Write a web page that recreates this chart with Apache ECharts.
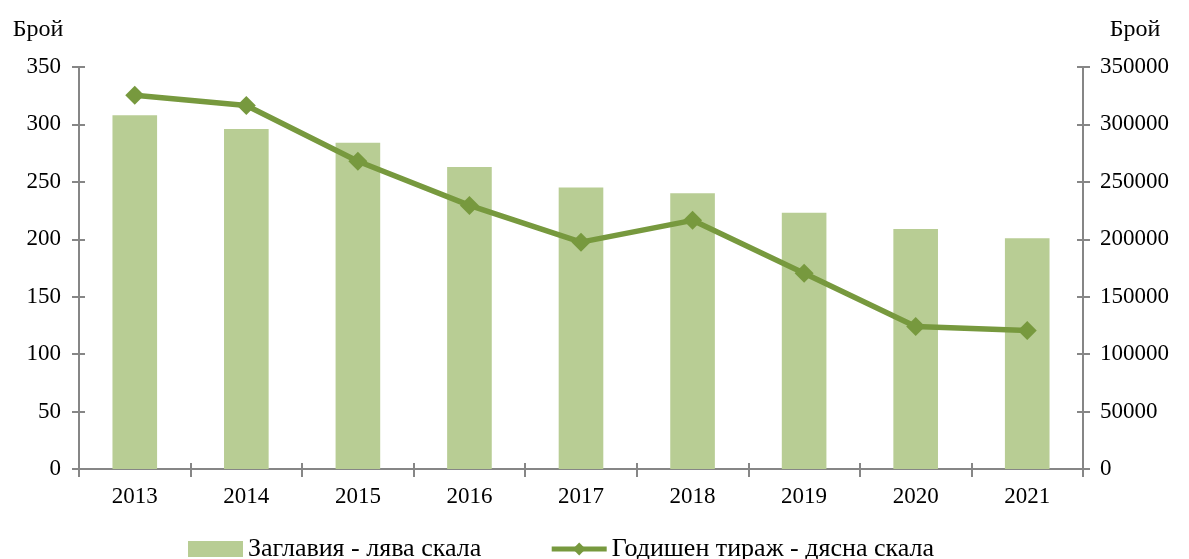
<!DOCTYPE html>
<html>
<head>
<meta charset="utf-8">
<script src="https://cdn.jsdelivr.net/npm/echarts@6/dist/echarts.min.js"></script>
<style>html,body{margin:0;padding:0;background:#fff}#c{width:1189px;height:559px}</style>
</head>
<body>
<div id="c"></div>
<script>
const years = ['2013','2014','2015','2016','2017','2018','2019','2020','2021'];
const titles = [308, 296, 284, 263, 245, 240, 223, 209, 201];
const circulation = [325500, 316500, 268000, 229500, 197500, 216500, 170500, 124000, 120500];
const leftName = 'Брой';
const rightName = 'Брой';
const barName = 'Заглавия - лява скала';
const lineName = 'Годишен тираж - дясна скала';

const FONT = '"Liberation Serif", "DejaVu Serif", serif';
const AX = '#868686';
const GREEN = '#77993e';
const txt = {color: '#000', fontFamily: FONT, fontSize: 23};

const chart = echarts.init(document.getElementById('c'));
const tickOnly = (extra) => Object.assign({
  axisLine: {show: false},
  axisLabel: {show: false},
  splitLine: {show: false},
  axisTick: {show: true, inside: true, length: 6, lineStyle: {color: AX, width: 2}}
}, extra);

chart.setOption({
  animation: false,
  textStyle: {fontFamily: FONT},
  grid: {left: 79, right: 106, top: 67, bottom: 90, containLabel: false},
  legend: {
    top: 531, left: 183,
    itemWidth: 55, itemHeight: 16, itemGap: 68,
    textStyle: Object.assign({}, txt, {fontSize: 26}),
    data: [
      {name: barName, icon: 'rect'},
      {name: lineName, lineStyle: {width: 5, color: GREEN}, itemStyle: {color: GREEN}}
    ]
  },
  xAxis: [
    {
      type: 'category', data: years, position: 'bottom',
      axisLine: {lineStyle: {color: AX, width: 2}},
      axisTick: {show: true, length: 8, lineStyle: {color: AX, width: 2}},
      axisLabel: Object.assign({}, txt, {margin: 16}),
      splitLine: {show: false}
    },
    tickOnly({type: 'category', data: years, position: 'bottom'})
  ],
  yAxis: [
    {
      type: 'value', min: 0, max: 350, interval: 50, position: 'left',
      name: leftName, nameLocation: 'end', nameGap: 25,
      nameTextStyle: Object.assign({}, txt, {fontSize: 24, padding: [0, 82, 0, 0]}),
      axisLine: {show: true, lineStyle: {color: AX, width: 2}},
      axisTick: {show: true, length: 7, lineStyle: {color: AX, width: 2}},
      axisLabel: Object.assign({}, txt, {margin: 18}),
      splitLine: {show: false}
    },
    {
      type: 'value', min: 0, max: 350000, interval: 50000, position: 'right',
      name: rightName, nameLocation: 'end', nameGap: 25,
      nameTextStyle: Object.assign({}, txt, {fontSize: 24, padding: [0, 0, 0, 104]}),
      axisLine: {show: true, lineStyle: {color: AX, width: 2}},
      axisTick: {show: true, length: 7, lineStyle: {color: AX, width: 2}},
      axisLabel: Object.assign({}, txt, {margin: 17, formatter: v => String(v)}),
      splitLine: {show: false}
    },
    tickOnly({type: 'value', min: 0, max: 350, interval: 50, position: 'left'}),
    tickOnly({type: 'value', min: 0, max: 350000, interval: 50000, position: 'right'})
  ],
  series: [
    {
      name: barName, type: 'bar', xAxisIndex: 0, yAxisIndex: 0,
      data: titles, barWidth: '40%',
      itemStyle: {color: '#b8cd94'}
    },
    {
      name: lineName, type: 'line', xAxisIndex: 0, yAxisIndex: 1,
      data: circulation,
      symbol: 'diamond', symbolSize: 19,
      lineStyle: {color: GREEN, width: 5.5},
      itemStyle: {color: GREEN}
    }
  ]
});
</script>
</body>
</html>
